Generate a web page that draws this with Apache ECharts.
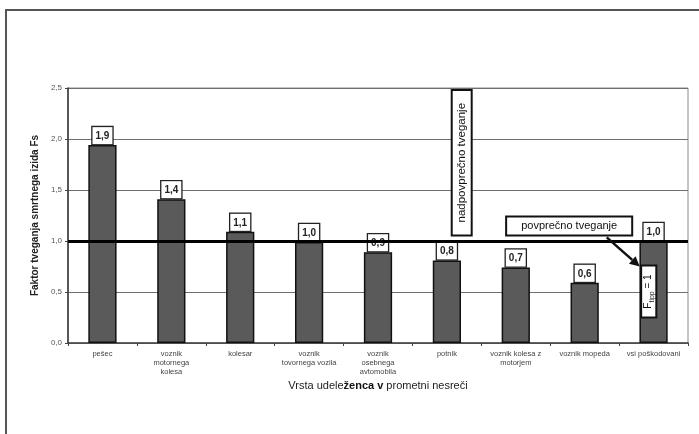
<!DOCTYPE html>
<html>
<head>
<meta charset="utf-8">
<script src="https://cdn.jsdelivr.net/npm/echarts@6/dist/echarts.min.js"></script>
<style>
html,body{margin:0;padding:0;background:#fff;}
#c{width:699px;height:434px;}
</style>
</head>
<body>
<div id="c"></div>
<script>
const categories = [
  'pešec',
  'voznik\nmotornega\nkolesa',
  'kolesar',
  'voznik\ntovornega vozila',
  'voznik\nosebnega\navtomobila',
  'potnik',
  'voznik kolesa z\nmotorjem',
  'voznik mopeda',
  'vsi poškodovani'
];
const values = [1.94, 1.41, 1.09, 0.99, 0.89, 0.81, 0.74, 0.59, 1.0];
const yTicks = [0, 0.5, 1.0, 1.5, 2.0, 2.5];
const averageLevel = 1.0;

const FONT = '"Liberation Sans", Arial, sans-serif';
const fmt = v => v.toFixed(1).replace('.', ',');

const chart = echarts.init(document.getElementById('c'));
chart.setOption({
  animation: false,
  backgroundColor: '#fff',
  grid: {
    left: 68, right: 11, top: 88, bottom: 91,
    show: true, borderColor: '#8a8a8a', borderWidth: 1, backgroundColor: 'transparent'
  },
  xAxis: {
    type: 'category',
    data: categories,
    name: 'Vrsta udele{b|ženca v} prometni nesreči',
    nameLocation: 'middle',
    nameGap: 37,
    nameTextStyle: {
      fontFamily: FONT, fontSize: 11, color: '#222', fontWeight: 'normal',
      rich: { b: { fontFamily: FONT, fontSize: 11, color: '#111', fontWeight: 'bold' } }
    },
    axisLine: { lineStyle: { color: '#444', width: 1.5 } },
    axisTick: { show: true, alignWithLabel: false, length: 3, lineStyle: { color: '#444' } },
    axisLabel: {
      interval: 0, fontFamily: FONT, fontSize: 7.5, color: '#444',
      lineHeight: 9, margin: 6
    }
  },
  yAxis: {
    type: 'value',
    min: yTicks[0], max: yTicks[yTicks.length - 1], interval: 0.5,
    name: 'Faktor tveganja smrtnega izida Fs',
    nameLocation: 'middle',
    nameGap: 28,
    nameTextStyle: { fontFamily: FONT, fontSize: 10, color: '#222', fontWeight: 'bold' },
    axisLine: { show: true, lineStyle: { color: '#333', width: 1.5 } },
    axisTick: { show: true, length: 3, lineStyle: { color: '#444' } },
    axisLabel: { fontFamily: FONT, fontSize: 8, color: '#555', margin: 6, formatter: v => fmt(v) },
    splitLine: { show: true, lineStyle: { color: '#6e6e6e', width: 1 } }
  },
  series: [{
    type: 'bar',
    data: values,
    barWidth: '41%',
    itemStyle: { color: '#5a5a5a', borderColor: '#111', borderWidth: 1.5 },
    label: {
      show: true, position: 'top', distance: 1,
      formatter: p => fmt(p.value),
      fontFamily: FONT, fontSize: 10, fontWeight: 'bold', color: '#222',
      backgroundColor: '#fff', borderColor: '#222', borderWidth: 1.3,
      padding: [4, 3, 3, 3]
    },
    markLine: {
      silent: true, symbol: 'none', z: 5,
      label: { show: false },
      lineStyle: { color: '#000', width: 3, type: 'solid' },
      data: [{ yAxis: averageLevel }]
    },
    z: 3
  }]
});

// annotation anchors in data space: [fractional category position, value]
const c0 = chart.convertToPixel({ xAxisIndex: 0, yAxisIndex: 0 }, [0, 0]);
const c1 = chart.convertToPixel({ xAxisIndex: 0, yAxisIndex: 0 }, [1, 0]);
const band = c1[0] - c0[0];
const P = (i, v) => [c0[0] + i * band, chart.convertToPixel({ yAxisIndex: 0 }, v)];
const aboveBox = [P(5.07, 2.48), P(5.36, 1.055)];
const avgBox = [P(5.86, 1.24), P(7.69, 1.055)];
const arrowFrom = P(7.32, 1.035), arrowTo = P(7.80, 0.75);
const fBox = [P(7.82, 0.76), P(8.04, 0.25)];

function boxWithText(a, b, text, rotate, fontSize, rich) {
  const x = Math.min(a[0], b[0]), y = Math.min(a[1], b[1]);
  const w = Math.abs(b[0] - a[0]), h = Math.abs(b[1] - a[1]);
  return [{
    type: 'rect', z: 20,
    shape: { x: x, y: y, width: w, height: h },
    style: { fill: '#fff', stroke: '#111', lineWidth: 2 }
  }, {
    type: 'text', z: 21,
    x: x + w / 2, y: y + h / 2,
    rotation: rotate,
    style: {
      text: text, fontFamily: FONT, fontSize: fontSize, fill: '#111',
      align: 'center', verticalAlign: 'middle', rich: rich || {}
    }
  }];
}

const dx = arrowTo[0] - arrowFrom[0], dy = arrowTo[1] - arrowFrom[1];
const ang = Math.atan2(dy, dx);
const head = 10, hw = 5;
const bx = arrowTo[0] - head * Math.cos(ang), by = arrowTo[1] - head * Math.sin(ang);

chart.setOption({
  graphic: [
    {
      type: 'rect', z: 0, silent: true,
      shape: { x: 6, y: 10, width: 760, height: 480 },
      style: { fill: 'none', stroke: '#555', lineWidth: 2 }
    },
    ...boxWithText(aboveBox[0], aboveBox[1], 'nadpovprečno tveganje', Math.PI / 2, 11.5),
    ...boxWithText(avgBox[0], avgBox[1], 'povprečno tveganje', 0, 11),
    ...boxWithText(fBox[0], fBox[1], 'F{s|tipp} = 1', Math.PI / 2, 10,
      { s: { fontFamily: FONT, fontSize: 7, fill: '#111', padding: [6, 0, 0, 0] } }),
    {
      type: 'line', z: 22,
      shape: { x1: arrowFrom[0], y1: arrowFrom[1], x2: bx, y2: by },
      style: { stroke: '#111', lineWidth: 2.5 }
    },
    {
      type: 'polygon', z: 22,
      shape: { points: [
        arrowTo,
        [bx + hw * Math.sin(ang), by - hw * Math.cos(ang)],
        [bx - hw * Math.sin(ang), by + hw * Math.cos(ang)]
      ] },
      style: { fill: '#111' }
    }
  ]
});
</script>
</body>
</html>
